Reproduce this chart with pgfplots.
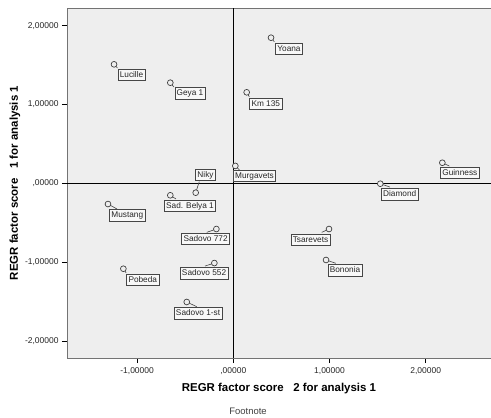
\documentclass[border=0pt]{standalone}
\usepackage{fontspec}
\setmainfont{Liberation Sans}
\usepackage{pgfplots}
\usepackage{pgfplotstable}
\pgfplotsset{compat=1.18}
\definecolor{bg}{gray}{0.935}
\definecolor{frm}{gray}{0.45}
\definecolor{pt}{gray}{0.25}
\pgfplotstableread[col sep=comma]{
x,y,u,v,dx,dy,name
-1.240,1.510,0.036,-0.047,17.5,-10.7,Lucille
-0.655,1.277,0.038,-0.055,19.7,-10.8,Geya 1
0.392,1.848,0.034,-0.051,18.0,-11.3,Yoana
0.139,1.155,0.027,-0.056,19.1,-11.4,Km 135
0.021,0.221,0.042,-0.051,19.2,-10.0,Murgavets
-0.391,-0.119,0.037,0.140,9.8,18.0,Niky
-0.655,-0.152,0.059,-0.047,19.7,-10.7,Sad. Belya 1
-1.303,-0.263,0.094,-0.063,19.3,-11.5,Mustang
-0.176,-0.580,-0.100,-0.042,-10.8,-10.0,Sadovo 772
-0.197,-1.012,-0.097,-0.038,-10.3,-10.0,Sadovo 552
-1.143,-1.084,0.028,-0.051,19.4,-11.0,Pobeda
-0.484,-1.506,0.104,-0.060,11.3,-11.3,Sadovo 1-st
1.528,-0.005,0.101,-0.043,19.4,-10.7,Diamond
2.173,0.261,0.073,-0.042,17.5,-10.3,Guinness
0.995,-0.580,-0.076,-0.042,-18.5,-10.7,Tsarevets
0.964,-0.973,0.101,-0.042,19.0,-10.5,Bononia
}\pts
\begin{document}
\begin{tikzpicture}
\begin{axis}[
  at={(0,0)}, anchor=south west,
  scale only axis, width=424bp, height=350bp,
  xmin=-1.729, xmax=2.679, ymin=-2.217, ymax=2.225,
  axis background/.style={fill=bg},
  axis line style={frm, line width=0.9bp},
  xtick={-1,0,1,2},
  xticklabels={{-1,00000},{,00000},{1,00000},{2,00000}},
  ytick={-2,-1,0,1,2},
  yticklabels={{-2,00000},{-1,00000},{,00000},{1,00000},{2,00000}},
  xtick pos=bottom, ytick pos=left,
  tick align=outside, major tick length=5bp,
  tick style={black, line width=0.6bp},
  ticklabel style={font=\fontsize{8.5}{10}\selectfont, text=black!85},
  xticklabel style={yshift=-1bp},
  extra x ticks={0}, extra x tick labels={},
  extra x tick style={grid=major, major tick length=0pt, grid style={black, line width=0.7bp}},
  extra y ticks={0}, extra y tick labels={},
  extra y tick style={grid=major, major tick length=0pt, grid style={black, line width=0.7bp}},
  xlabel={REGR factor score~~~2 for analysis 1},
  ylabel={REGR factor score~~~1 for analysis 1},
  label style={font=\fontsize{11.5}{13}\selectfont\bfseries},
  xlabel style={at={([yshift=-31bp]axis description cs:0.5,0)}, anchor=center},
  ylabel style={at={([xshift=-52bp]axis description cs:0,0.5)}, anchor=center},
  clip=false,
]
\addplot[quiver={u=\thisrow{u}, v=\thisrow{v}}, draw=pt, line width=0.6bp, mark=none] table[x=x, y=y] {\pts};
\addplot[only marks, mark=none,
  visualization depends on={\thisrow{dx}\as\dx},
  visualization depends on={\thisrow{dy}\as\dy},
  point meta=explicit symbolic,
  nodes near coords,
  every node near coord/.style={anchor=center, xshift=\dx bp, yshift=\dy bp,
    draw=gray!55!black, line width=0.6bp, fill=white!60!bg, inner xsep=1.8bp, inner ysep=1.5bp,
    text height=6.6bp, text depth=1.9bp,
    font=\fontsize{8.3}{9.5}\selectfont, text=black!85}
] table[x=x, y=y, meta=name] {\pts};
\addplot[only marks, mark=*, mark size=2.9bp, mark options={draw=pt, fill=bg, line width=0.7bp}] table[x=x, y=y] {\pts};
\end{axis}
\node[font=\fontsize{9.5}{11}\selectfont, text=black!75] at (181bp,-53bp) {Footnote};
\pgfresetboundingbox
\path[use as bounding box] (-67bp,-60bp) rectangle (424bp,358bp);
\end{tikzpicture}
\end{document}
